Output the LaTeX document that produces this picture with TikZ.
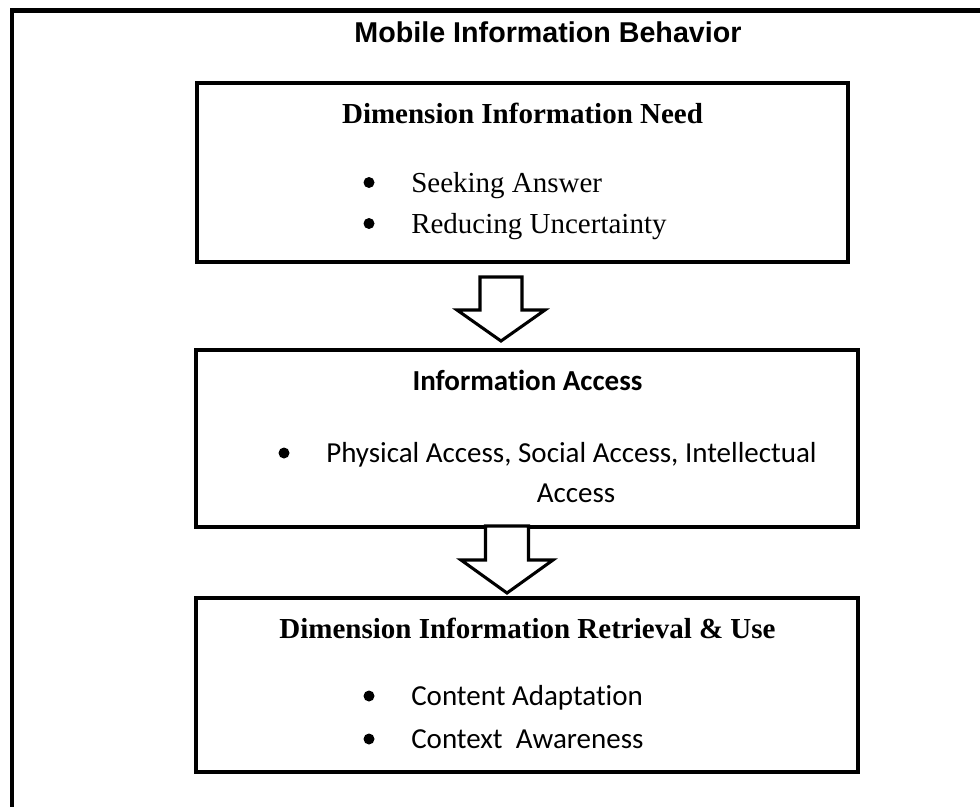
\documentclass[tikz,border=0pt]{standalone}
\usepackage{fontspec}
\setmainfont{Liberation Serif}
\newfontfamily\headfont{Liberation Sans}
\newfontfamily\bodyfont[Ligatures=NoCommon]{Carlito}
\usetikzlibrary{calc}

% block arrow pointing down: centre x, top y, shaft half width, head y, head half width, tip y
\newcommand\downblock[6]{%
  \draw[blockline] (#1-#3,#2) -- (#1+#3,#2) -- (#1+#3,#4) -- (#1+#5,#4)
    -- (#1,#6) -- (#1-#5,#4) -- (#1-#3,#4) -- cycle;}

\begin{document}
\begin{tikzpicture}[x=0.75pt,y=-0.75pt,
  txt/.style={font=\fontsize{21.75pt}{26pt}\selectfont, inner sep=0pt},
  sans/.style={font=\fontsize{21.75pt}{26pt}\selectfont\bodyfont},
  dot/.style={circle, fill=black, inner sep=0pt, minimum size=11*0.75pt},
  stage/.style={draw, line width=3.4pt, fill=white, inner sep=0pt},
  blockline/.style={draw, line width=2.3pt, fill=white, miter limit=10},
  frameline/.style={line width=3.2pt}]
\useasboundingbox (0,0) rectangle (980,806);
\clip (0,0) rectangle (980,806);
\fill[white] (0,0) rectangle (980,806);

% outer frame (open to the right and bottom)
\draw[frameline] (12,830) -- (12,10.5) -- (1000,10.5);

\node[txt, anchor=base, font=\fontsize{21.5pt}{26pt}\selectfont\headfont\bfseries] (title) at (548,43) {Mobile Information Behavior};

% stage boxes
\node[stage, minimum width=651*0.75pt, minimum height=179*0.75pt] (need) at (522.5,172.5) {};
\node[stage, minimum width=662*0.75pt, minimum height=177*0.75pt] (access) at (527,438.5) {};
\node[stage, minimum width=662*0.75pt, minimum height=174*0.75pt] (use) at (527,685) {};

% stage 1
\node[txt, anchor=base, font=\fontsize{21.75pt}{26pt}\selectfont\bfseries] (needT) at (522.5,124) {Dimension Information Need};
\node[dot] (b11) at (369,182.5) {};
\node[txt, anchor=base west] (i11) at (411,192) {Seeking Answer};
\node[dot] (b12) at (369,223.5) {};
\node[txt, anchor=base west] (i12) at (411,233) {Reducing Uncertainty};

% stage 2
\node[txt, anchor=base, font=\fontsize{21.75pt}{26pt}\selectfont\bodyfont\bfseries] (accessT) at (527.5,390) {Information Access};
\node[dot] (b21) at (284,453) {};
\node[txt, sans, anchor=base west] (i21) at (326,462) {Physical Access, Social Access, Intellectual};
\node[txt, sans, anchor=base] (i22) at (576,502) {Access};

% stage 3
\node[txt, anchor=base, font=\fontsize{21.75pt}{26pt}\selectfont\bfseries] (useT) at (527.5,638) {Dimension Information Retrieval \& Use};
\node[dot] (b31) at (369,696) {};
\node[txt, sans, anchor=base west] (i31) at (411,705) {Content Adaptation};
\node[dot] (b32) at (369,739) {};
\node[txt, sans, anchor=base west] (i32) at (411,748) {Context\ \ Awareness};

% block arrows between the stages
\downblock{501}{277}{21}{310}{44}{341}
\downblock{507}{526}{21.5}{560}{46}{593}
\end{tikzpicture}
\end{document}
